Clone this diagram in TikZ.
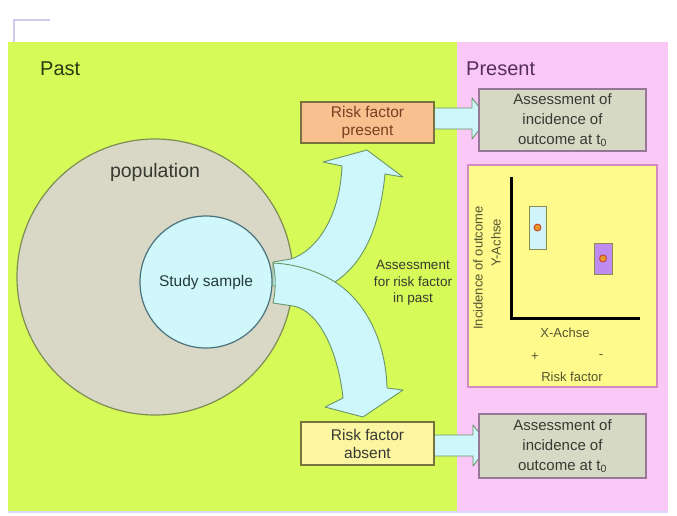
\documentclass[tikz,border=0pt]{standalone}
\usepackage{fontspec}
\setmainfont{Liberation Sans}
\definecolor{pastgreen}{RGB}{214,250,88}
\definecolor{presentpink}{RGB}{250,200,247}
\definecolor{popfill}{RGB}{217,215,197}
\definecolor{popline}{RGB}{125,140,85}
\definecolor{samplefill}{RGB}{208,248,251}
\definecolor{sampleline}{RGB}{75,115,125}
\definecolor{arrowfill}{RGB}{205,247,250}
\definecolor{arrowline}{RGB}{105,150,105}
\definecolor{presentfill}{RGB}{248,192,142}
\definecolor{absentfill}{RGB}{252,245,162}
\definecolor{rfline}{RGB}{120,115,60}
\definecolor{assessfill}{RGB}{214,218,196}
\definecolor{assessline}{RGB}{150,120,150}
\definecolor{chartfill}{RGB}{255,250,140}
\definecolor{chartline}{RGB}{212,140,190}
\definecolor{barblue}{RGB}{208,244,250}
\definecolor{barpurple}{RGB}{190,140,240}
\definecolor{barline}{RGB}{140,140,80}
\definecolor{dotfill}{RGB}{232,150,40}
\definecolor{dotline}{RGB}{190,60,40}
\definecolor{txt}{RGB}{55,58,50}
\definecolor{pasttxt}{RGB}{40,60,20}
\definecolor{presenttxt}{RGB}{85,45,95}
\definecolor{cornermark}{RGB}{205,205,235}
\begin{document}
\begin{tikzpicture}[x=1pt,y=-1pt,
  every node/.style={inner sep=0pt, text=txt},
  heading/.style={anchor=west, font=\fontsize{20}{24}\selectfont},
  rfbox/.style={draw=rfline, line width=1.1pt, align=center,
    minimum width=133pt, font=\fontsize{15.5}{18}\selectfont},
  assessbox/.style={draw=assessline, fill=assessfill, line width=1.1pt, align=center,
    minimum width=167pt, font=\fontsize{15}{20}\selectfont},
  blockarrow/.style={draw=arrowline, fill=arrowfill, line width=0.9pt, line join=round},
  chartlabel/.style={font=\fontsize{13}{15}\selectfont, text=barline!60!black},
  bar/.style={draw=barline, line width=1pt},
  dot/.style={circle, draw=dotline, fill=dotfill, line width=0.8pt, minimum size=7pt}
]
\useasboundingbox (0,0) rectangle (677,515);
\fill[white] (0,0) rectangle (677,515);

% corner mark and the two time panels
\draw[cornermark, line width=1.5pt] (14,42) -- (14,20) -- (50,20);
\fill[pastgreen] (8,42) rectangle (457,511);
\fill[presentpink] (457,42) rectangle (668,511);
\draw[blue!15!white, line width=2pt] (8,512) -- (668,512);

\node[heading, text=pasttxt] (past) at (40,69) {Past};
\node[heading, text=presenttxt] (present) at (466,69) {Present};

% population and study sample
\node[circle, draw=popline, fill=popfill, line width=1.2pt, minimum size=276pt] (pop) at (155,277) {};
\node[font=\fontsize{19.5}{22}\selectfont] (poplabel) at (155,172) {population};
\node[circle, draw=sampleline, fill=samplefill, line width=1.2pt, minimum size=132pt,
  font=\fontsize{15.5}{18}\selectfont, text=sampleline!50!black] (sample) at (206,282) {Study sample};

% split arrow: upper arm first, lower arm on top
\draw[blockarrow] (273,262) -- (291,259) .. controls (318,250) and (340,215) .. (342,166)
  -- (323,162) -- (367,150) -- (403,177) -- (385,174)
  .. controls (380,225) and (365,262) .. (335,282) -- (300,286) -- (273,286) -- cycle;
\draw[blockarrow] (273,263) .. controls (295,264) and (318,271) .. (335,282)
  .. controls (368,303) and (386,345) .. (387,388) -- (403,390) -- (363,417) -- (325,407)
  -- (343,398) .. controls (338,350) and (318,310) .. (293,306) -- (273,303)
  .. controls (276,290) and (276,276) .. (273,263) -- cycle;

\node[align=center, font=\fontsize{13.5}{16.7}\selectfont] (pastnote) at (413,283)
  {Assessment\\for risk factor\\in past};

% arrows from the risk factor boxes to the assessment boxes
\draw[blockarrow] (430,108) -- (472,108) -- (472,98) -- (488,118.5) -- (472,139) -- (472,129) -- (430,129) -- cycle;
\draw[blockarrow] (430,435) -- (473,435) -- (473,425) -- (489,445.5) -- (473,466) -- (473,456) -- (430,456) -- cycle;

\node[rfbox, fill=presentfill, minimum height=41pt, text=rfline!70!black!80!red] (rfp) at (367.5,122.5)
  {Risk factor\\present};
\node[rfbox, fill=absentfill, minimum height=43pt] (rfa) at (367.5,443.5)
  {Risk factor\\absent};

\node[assessbox, minimum height=62pt] (atop) at (562.5,120)
  {Assessment of\\incidence of\\outcome at t\textsubscript{0}};
\node[assessbox, minimum height=64pt] (abot) at (562.5,446)
  {Assessment of\\incidence of\\outcome at t\textsubscript{0}};

% chart panel
\node[draw=chartline, fill=chartfill, line width=1.3pt, minimum width=189pt, minimum height=222pt] (chart) at (562.5,276) {};
\coordinate (ytop) at (511,177);
\coordinate (origin) at (511,318);
\coordinate (xend) at (640,318);
\draw[black, line width=3pt] (ytop) -- (origin) -- (xend);

\node[bar, fill=barblue, minimum width=17pt, minimum height=43pt] (barplus) at (537.5,227.5) {};
\node[bar, fill=barpurple, minimum width=18pt, minimum height=31pt] (barminus) at (603,258.5) {};
\node[dot] (dotplus) at (barplus) {};
\node[dot] (dotminus) at (barminus) {};

\node[chartlabel, rotate=90] (ylab1) at (478,268) {Incidence of outcome};
\node[chartlabel, rotate=90] (ylab2) at (496,243) {Y-Achse};
\node[chartlabel] (xlab) at (565,333) {X-Achse};
\node[chartlabel] (plus) at (535,357) {+};
\node[chartlabel] (minus) at (601,357) {-};
\node[chartlabel] (rflab) at (572,377) {Risk factor};
\end{tikzpicture}
\end{document}
